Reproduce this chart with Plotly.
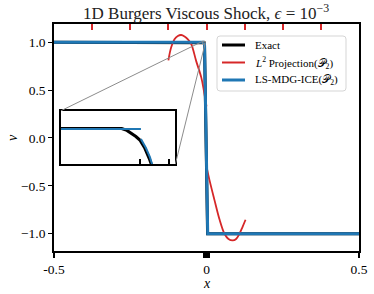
import plotly.graph_objects as go

# ---------------- data ----------------
exact_x = [-0.5, -0.0125, -0.00852, -0.00818, -0.00787, -0.00759, -0.00733, -0.0070, -0.00672, -0.00656, 0.0035, 0.5]
exact_v = [1.0, 1.0, 1.0, 0.9989, 0.99728, 0.99548, 0.99351, 0.98884, 0.98321, 0.97944, -1.0, -1.0]

# L2 projection: two quadratic pieces meeting at the shock (gap hidden behind the shock line)
l2_x = [-0.125, -0.116, -0.105, -0.094, -0.083, -0.072, -0.061, -0.050, -0.034, -0.017, -0.009, 0.0,
        None,
        0.0, 0.0098, 0.026, 0.043, 0.059, 0.072, 0.086, 0.097, 0.108, 0.118, 0.128]
l2_v = [0.81, 0.945, 1.03, 1.065, 1.075, 1.06, 1.03, 0.98, 0.805, 0.63, 0.50, 0.33,
        None,
        -0.30, -0.44, -0.646, -0.854, -1.0, -1.055, -1.07, -1.055, -1.0, -0.93, -0.854]

ice_x = [-0.5, -0.00726, None, -0.00726, -0.00693, -0.00667, -0.00651, 0.004, 0.5]
ice_v = [0.9997, 0.9997, None, 0.9941, 0.9890, 0.9839, 0.9794, -1.0, -1.0]

ice_nodes = [-0.00729, -0.00541, -0.003, 0.0, 0.003, 0.006, 0.009]
l2_nodes = [-0.375, -0.25, -0.125, 0.0, 0.125, 0.25, 0.375]

x_ticks = [-0.5, 0.0, 0.5]
x_labels = ["-0.5", "0", "0.5"]
y_ticks = [-1.0, -0.5, 0.0, 0.5, 1.0]
y_labels = ["\u22121.0", "\u22120.5", "0.0", "0.5", "1.0"]

series_names = ["Exact",
                "<i>L</i><sup>2</sup> Projection(\U0001D4AB<sub>2</sub>)",
                "LS-MDG-ICE(\U0001D4AB<sub>2</sub>)"]

x_range = [-0.5, 0.5]
y_range = [-1.18, 1.19]
inset_x_range = [-0.0125, -0.005]
inset_y_range = [0.98, 1.01]
inset_dom_x = [0.023, 0.398]
inset_dom_y = [0.383, 0.618]

FONT = "Liberation Serif"
BLACK = "#000000"
RED = "#d62728"
BLUE = "#1f77b4"
COLORS = [BLACK, RED, BLUE]
WIDTHS = [3, 2, 3]

W, H = 374, 294
ML, MR, MT, MB = 54, 15, 24, 43
PW, PH = W - ML - MR, H - MT - MB


def px2paper(px, py):
    return (px - ML) / PW, (H - MB - py) / PH


fig = go.Figure()

# main traces
fig.add_trace(go.Scatter(x=exact_x, y=exact_v, mode="lines", name=series_names[0],
                         showlegend=False, line=dict(color=BLACK, width=3)))
fig.add_trace(go.Scatter(x=l2_x, y=l2_v, mode="lines", connectgaps=False, name=series_names[1],
                         showlegend=False,
                         line=dict(color=RED, width=1.8, shape="spline", smoothing=1.0)))
fig.add_trace(go.Scatter(x=ice_x, y=ice_v, mode="lines", name=series_names[2],
                         showlegend=False, line=dict(color=BLUE, width=3)))

# overlay axis carrying the L2 mesh ticks (top, red)
fig.add_trace(go.Scatter(x=[None], y=[None], xaxis="x2", showlegend=False, hoverinfo="skip"))

# inset traces
fig.add_trace(go.Scatter(x=exact_x, y=exact_v, mode="lines", xaxis="x3", yaxis="y3",
                         showlegend=False, line=dict(color=BLACK, width=3)))
fig.add_trace(go.Scatter(x=ice_x, y=ice_v, mode="lines", xaxis="x3", yaxis="y3",
                         showlegend=False, line=dict(color=BLUE, width=2)))


# connector lines from the inset to the zoom window (mark_inset style)
def paper_to_data(px, py):
    return (x_range[0] + px * (x_range[1] - x_range[0]),
            y_range[0] + py * (y_range[1] - y_range[0]))


tl = paper_to_data(inset_dom_x[0], inset_dom_y[1])
br = paper_to_data(inset_dom_x[1], inset_dom_y[0])
GRAY = "#8c8c8c"
shapes = [
    dict(type="line", xref="x", yref="y", x0=tl[0], y0=tl[1],
         x1=inset_x_range[0], y1=inset_y_range[1], line=dict(color=GRAY, width=1)),
    dict(type="line", xref="x", yref="y", x0=br[0], y0=br[1],
         x1=inset_x_range[1], y1=inset_y_range[0], line=dict(color=GRAY, width=1)),
    dict(type="rect", xref="x", yref="y", x0=inset_x_range[0], y0=inset_y_range[0],
         x1=inset_x_range[1], y1=inset_y_range[1], line=dict(color=GRAY, width=1)),
]

annotations = [
    dict(text="<i>x</i>", xref="paper", yref="paper", x=0.5, y=px2paper(0, 283)[1],
         showarrow=False, font=dict(family=FONT, size=14, color=BLACK),
         xanchor="center", yanchor="middle"),
    dict(text="<i>v</i>", xref="paper", yref="paper", x=px2paper(12, 0)[0], y=px2paper(0, 138)[1],
         showarrow=False, font=dict(family=FONT, size=14, color=BLACK),
         xanchor="center", yanchor="middle", textangle=-90),
]

# legend box (matplotlib-style, rounded, drawn in paper coordinates)
bx0, by0 = px2paper(217, 91)
bx1, by1 = px2paper(346, 36)
rx, ry = 3 / PW, 3 / PH
legend_path = (
    f"M {bx0 + rx},{by0} L {bx1 - rx},{by0} Q {bx1},{by0} {bx1},{by0 + ry} "
    f"L {bx1},{by1 - ry} Q {bx1},{by1} {bx1 - rx},{by1} "
    f"L {bx0 + rx},{by1} Q {bx0},{by1} {bx0},{by1 - ry} "
    f"L {bx0},{by0 + ry} Q {bx0},{by0} {bx0 + rx},{by0} Z"
)
shapes.append(dict(type="path", xref="paper", yref="paper", path=legend_path,
                   fillcolor="rgba(255,255,255,0.85)", line=dict(color="#d5d5d5", width=1),
                   layer="above"))
row_px = [45, 62.5, 80]
for name, col, wd, rpy in zip(series_names, COLORS, WIDTHS, row_px):
    lx0, ly = px2paper(222, rpy)
    lx1, _ = px2paper(245, rpy)
    tx, _ = px2paper(253, rpy)
    shapes.append(dict(type="line", xref="paper", yref="paper", x0=lx0, x1=lx1, y0=ly, y1=ly,
                       line=dict(color=col, width=wd), layer="above"))
    annotations.append(dict(text=name, xref="paper", yref="paper", x=tx, y=ly,
                            xanchor="left", yanchor="middle", showarrow=False,
                            font=dict(family=FONT, size=11, color=BLACK)))

axis_font = dict(family=FONT, size=13.5, color=BLACK)

fig.update_layout(
    template="none",
    width=W, height=H,
    margin=dict(l=ML, r=MR, t=MT, b=MB, autoexpand=False),
    paper_bgcolor="white", plot_bgcolor="white",
    font=dict(family=FONT, color=BLACK),
    showlegend=False,
    title=dict(text="1D Burgers Viscous Shock, <i>\u03f5</i> = 10<sup>\u22123</sup>",
               x=0.551, xanchor="center", y=1 - 13 / H, yanchor="middle",
               yref="container", font=dict(family=FONT, size=17, color="#222222")),
    xaxis=dict(range=x_range, tickvals=x_ticks + ice_nodes, automargin=False,
               ticktext=x_labels + [""] * len(ice_nodes),
               ticks="outside", ticklen=5, tickwidth=1.5, tickcolor=BLACK,
               showline=True, linecolor=BLACK, linewidth=1.6, mirror=True,
               showgrid=False, zeroline=False, tickfont=axis_font),
    xaxis2=dict(range=x_range, overlaying="x", side="top", tickvals=l2_nodes, automargin=False,
                ticks="inside", ticklen=6, tickwidth=1.5, tickcolor=RED,
                showticklabels=False, showgrid=False, zeroline=False, showline=False),
    yaxis=dict(range=y_range, tickvals=y_ticks, ticktext=y_labels, automargin=False,
               ticks="outside", ticklen=4, tickwidth=1.2, tickcolor=BLACK,
               showline=True, linecolor=BLACK, linewidth=1.6, mirror=True,
               showgrid=False, zeroline=False, tickfont=axis_font),
    xaxis3=dict(domain=inset_dom_x, anchor="y3", range=inset_x_range, automargin=False,
                tickvals=ice_nodes, ticks="inside", ticklen=5, tickwidth=1.5,
                tickcolor=BLACK, showticklabels=False, showline=True, linecolor=BLACK,
                linewidth=1.6, mirror=True, showgrid=False, zeroline=False),
    yaxis3=dict(domain=inset_dom_y, anchor="x3", range=inset_y_range, automargin=False,
                showticklabels=False, ticks="", showline=True, linecolor=BLACK,
                linewidth=1.6, mirror=True, showgrid=False, zeroline=False),
    shapes=shapes,
    annotations=annotations,
)

fig.write_html("out.html", config={"displayModeBar": False},
               post_script="document.body.style.margin='0';document.body.style.padding='0';")
